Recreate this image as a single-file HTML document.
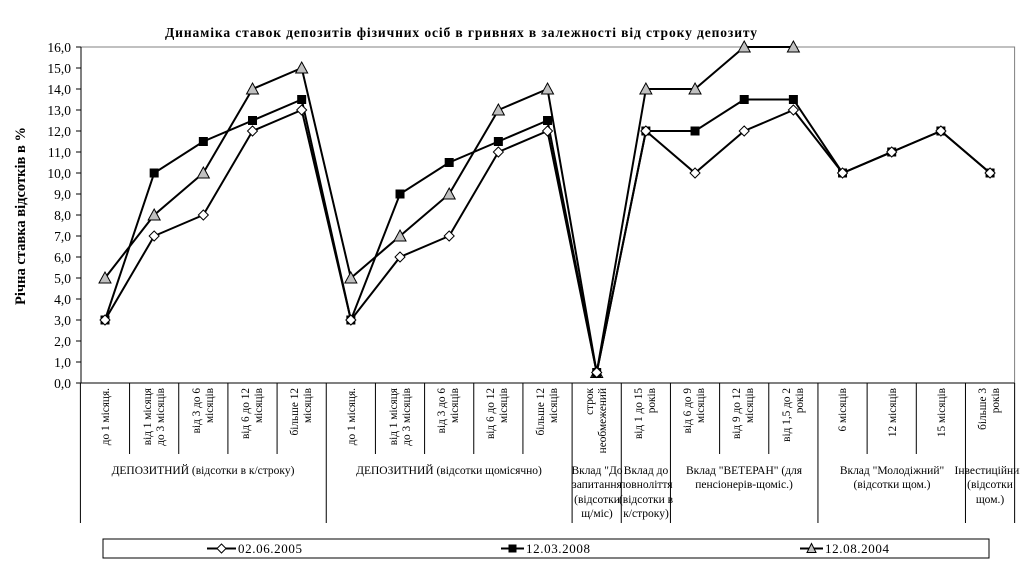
<!DOCTYPE html>
<html><head><meta charset="utf-8">
<style>
html,body{margin:0;padding:0;background:#fff;}
svg{display:block;font-family:"Liberation Serif",serif;}
</style></head><body>
<svg id="s" width="1020" height="563" viewBox="0 0 1020 563" xmlns="http://www.w3.org/2000/svg">
<rect x="0" y="0" width="1020" height="563" fill="#fff"/>
<text x="165" y="37" font-size="13.5" font-weight="bold" textLength="592" lengthAdjust="spacing">Динаміка ставок депозитів фізичних осіб в гривнях в залежності від строку депозиту</text>
<text transform="translate(25,305) rotate(-90)" font-size="14.5" font-weight="bold" textLength="178" lengthAdjust="spacing">Річна ставка відсотків в %</text>
<rect x="81" y="47" width="933.6" height="336" fill="none" stroke="#808080" stroke-width="1"/>
<line x1="81" y1="47" x2="81" y2="383" stroke="#000"/>
<line x1="76" y1="383" x2="1014.6" y2="383" stroke="#000"/>
<g stroke="#000">
<line x1="76" y1="383" x2="81" y2="383"/><line x1="76" y1="362" x2="81" y2="362"/><line x1="76" y1="341" x2="81" y2="341"/><line x1="76" y1="320" x2="81" y2="320"/><line x1="76" y1="299" x2="81" y2="299"/><line x1="76" y1="278" x2="81" y2="278"/><line x1="76" y1="257" x2="81" y2="257"/><line x1="76" y1="236" x2="81" y2="236"/><line x1="76" y1="215" x2="81" y2="215"/><line x1="76" y1="194" x2="81" y2="194"/><line x1="76" y1="173" x2="81" y2="173"/><line x1="76" y1="152" x2="81" y2="152"/><line x1="76" y1="131" x2="81" y2="131"/><line x1="76" y1="110" x2="81" y2="110"/><line x1="76" y1="89" x2="81" y2="89"/><line x1="76" y1="68" x2="81" y2="68"/><line x1="76" y1="47" x2="81" y2="47"/>
</g>
<g font-size="13.5" text-anchor="end">
<text x="71" y="388">0,0</text><text x="71" y="367">1,0</text><text x="71" y="346">2,0</text><text x="71" y="325">3,0</text>
<text x="71" y="304">4,0</text><text x="71" y="283">5,0</text><text x="71" y="262">6,0</text><text x="71" y="241">7,0</text>
<text x="71" y="220">8,0</text><text x="71" y="199">9,0</text><text x="71" y="178">10,0</text><text x="71" y="157">11,0</text>
<text x="71" y="136">12,0</text><text x="71" y="115">13,0</text><text x="71" y="94">14,0</text><text x="71" y="73">15,0</text>
<text x="71" y="52">16,0</text>
</g>
<g id="ticks" stroke="#000"></g>
<g id="series"></g>
<g font-size="11.3" text-anchor="end">
<text transform="translate(109,388) rotate(-90)">до 1 місяця.</text>
<text transform="translate(151,388) rotate(-90)">від 1 місяця</text>
<text transform="translate(164,388) rotate(-90)">до 3 місяців</text>
<text transform="translate(200,388) rotate(-90)">від 3 до 6</text>
<text transform="translate(213,388) rotate(-90)">місяців</text>
<text transform="translate(249,388) rotate(-90)">від 6 до 12</text>
<text transform="translate(262,388) rotate(-90)">місяців</text>
<text transform="translate(298,388) rotate(-90)">більше 12</text>
<text transform="translate(311,388) rotate(-90)">місяців</text>
<text transform="translate(355,388) rotate(-90)">до 1 місяця.</text>
<text transform="translate(397,388) rotate(-90)">від 1 місяця</text>
<text transform="translate(410,388) rotate(-90)">до 3 місяців</text>
<text transform="translate(445,388) rotate(-90)">від 3 до 6</text>
<text transform="translate(458,388) rotate(-90)">місяців</text>
<text transform="translate(494,388) rotate(-90)">від 6 до 12</text>
<text transform="translate(507,388) rotate(-90)">місяців</text>
<text transform="translate(544,388) rotate(-90)">більше 12</text>
<text transform="translate(557,388) rotate(-90)">місяців</text>
<text transform="translate(593,388) rotate(-90)">строк</text>
<text transform="translate(606,388) rotate(-90)">необмежений</text>
<text transform="translate(642,388) rotate(-90)">від 1 до 15</text>
<text transform="translate(655,388) rotate(-90)">років</text>
<text transform="translate(691,388) rotate(-90)">від 6 до 9</text>
<text transform="translate(704,388) rotate(-90)">місяців</text>
<text transform="translate(740,388) rotate(-90)">від 9 до 12</text>
<text transform="translate(753,388) rotate(-90)">місяців</text>
<text transform="translate(790,388) rotate(-90)">від 1,5 до 2</text>
<text transform="translate(803,388) rotate(-90)">років</text>
<text transform="translate(846,388) rotate(-90)">6 місяців</text>
<text transform="translate(896,388) rotate(-90)">12 місяців</text>
<text transform="translate(945,388) rotate(-90)">15 місяців</text>
<text transform="translate(986,388) rotate(-90)">більше 3</text>
<text transform="translate(999,388) rotate(-90)">років</text>
</g>
<g font-size="11.5" text-anchor="middle">
<text x="203" y="474">ДЕПОЗИТНИЙ (відсотки в к/строку)</text>
<text x="449" y="474">ДЕПОЗИТНИЙ (відсотки щомісячно)</text>
<text x="597" y="474">Вклад "До</text><text x="597" y="488">запитання</text><text x="597" y="503">(відсотки</text><text x="597" y="517">щ/міс)</text>
<text x="646" y="474">Вклад до</text><text x="646" y="488">повноліття</text><text x="646" y="503">(відсотки в</text><text x="646" y="517">к/строку)</text>
<text x="744" y="474">Вклад "ВЕТЕРАН" (для</text><text x="744" y="488">пенсіонерів-щоміс.)</text>
<text x="892" y="474">Вклад "Молодіжний"</text><text x="892" y="488">(відсотки щом.)</text>
<text x="990" y="474">Інвестиційний</text><text x="990" y="488">(відсотки</text><text x="990" y="503">щом.)</text>
</g>
<rect x="103" y="539" width="886" height="19" fill="#fff" stroke="#000"/>
<g font-size="13">
<line x1="207" y1="548.5" x2="236" y2="548.5" stroke="#000" stroke-width="2"/>
<polygon points="221.5,544 226,548.5 221.5,553 217,548.5" fill="#fff" stroke="#000"/>
<text x="238" y="553" textLength="64" lengthAdjust="spacing">02.06.2005</text>
<line x1="501" y1="548.5" x2="524" y2="548.5" stroke="#000" stroke-width="2"/>
<rect x="508.5" y="544.5" width="8" height="8" fill="#000"/>
<text x="526" y="553" textLength="64" lengthAdjust="spacing">12.03.2008</text>
<line x1="800" y1="548.5" x2="823" y2="548.5" stroke="#000" stroke-width="2"/>
<polygon points="811.5,543.5 816,552.5 807,552.5" fill="#c0c0c0" stroke="#000"/>
<text x="825" y="553" textLength="64" lengthAdjust="spacing">12.08.2004</text>
</g>
</svg>
<script>
(function(){
var NS="http://www.w3.org/2000/svg";
function X(k){return 105+49.17*k;}
function Y(v){return 383-21*v;}
var t=document.getElementById("ticks");
var groups=[0,5,10,11,12,15,18,19];
for(var k=0;k<=19;k++){
 var x=80.4+49.17*k;
 var l=document.createElementNS(NS,"line");
 var y2=groups.indexOf(k)>=0?523:454;
 l.setAttribute("x1",x);l.setAttribute("x2",x);l.setAttribute("y1",383);l.setAttribute("y2",y2);
 t.appendChild(l);
}
var D=[3,7,8,12,13,3,6,7,11,12,0.5,12,10,12,13,10,11,12,10];
var S=[3,10,11.5,12.5,13.5,3,9,10.5,11.5,12.5,0.5,12,12,13.5,13.5,10,11,12,10];
var T=[5,8,10,14,15,5,7,9,13,14,0.5,14,14,16,16];
var g=document.getElementById("series");
function line(a){
 var p=[];for(var i=0;i<a.length;i++)p.push(X(i).toFixed(1)+","+Y(a[i]).toFixed(1));
 var e=document.createElementNS(NS,"polyline");
 e.setAttribute("points",p.join(" "));e.setAttribute("fill","none");
 e.setAttribute("stroke","#000");e.setAttribute("stroke-width","2");
 g.appendChild(e);
}
line(T);line(S);line(D);
for(var i=0;i<T.length;i++){var x=X(i),y=Y(T[i]);var e=document.createElementNS(NS,"polygon");
 e.setAttribute("points",x+","+(y-6)+" "+(x+6)+","+(y+5)+" "+(x-6)+","+(y+5));e.setAttribute("fill","#c0c0c0");e.setAttribute("stroke","#000");g.appendChild(e);}
for(var i=0;i<S.length;i++){var x=X(i),y=Y(S[i]);var e=document.createElementNS(NS,"rect");
 e.setAttribute("x",x-4.5);e.setAttribute("y",y-4.5);e.setAttribute("width",9);e.setAttribute("height",9);e.setAttribute("fill","#000");g.appendChild(e);}
for(var i=0;i<D.length;i++){var x=X(i),y=Y(D[i]);var e=document.createElementNS(NS,"polygon");
 e.setAttribute("points",x+","+(y-5)+" "+(x+5)+","+y+" "+x+","+(y+5)+" "+(x-5)+","+y);e.setAttribute("fill","#fff");e.setAttribute("stroke","#000");g.appendChild(e);}
})();
</script>
</body></html>
